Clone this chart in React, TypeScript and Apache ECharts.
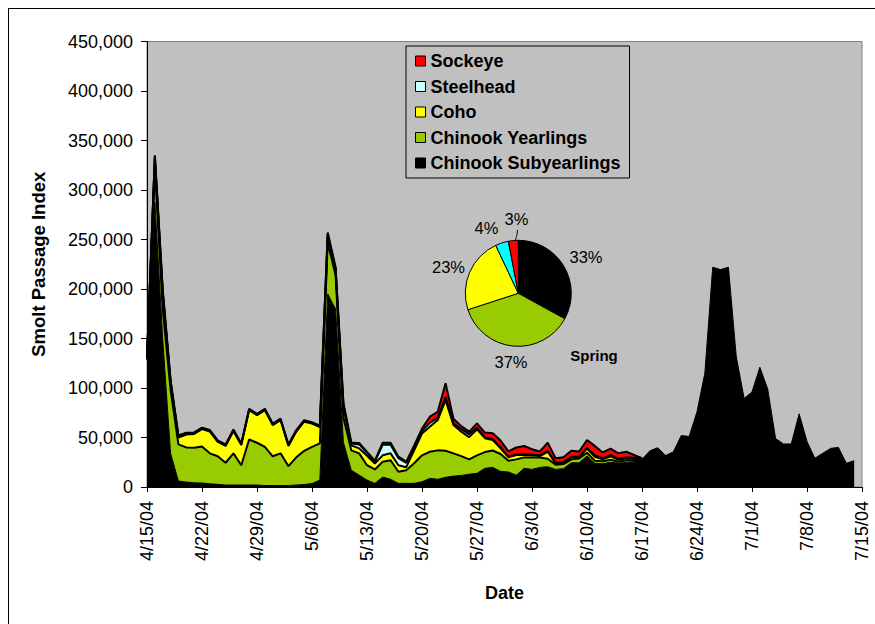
import React, { useEffect, useRef } from 'react';
import * as echarts from 'echarts';

const FONT = '"Liberation Sans", Arial, sans-serif';

// Category labels (daily, 4/15/04 .. 7/15/04)
const dates = [
  '4/15/04','4/16/04','4/17/04','4/18/04','4/19/04','4/20/04','4/21/04','4/22/04','4/23/04','4/24/04','4/25/04','4/26/04','4/27/04','4/28/04','4/29/04','4/30/04',
  '5/1/04','5/2/04','5/3/04','5/4/04','5/5/04','5/6/04','5/7/04','5/8/04','5/9/04','5/10/04','5/11/04','5/12/04','5/13/04','5/14/04','5/15/04','5/16/04','5/17/04','5/18/04','5/19/04','5/20/04','5/21/04','5/22/04','5/23/04','5/24/04','5/25/04','5/26/04','5/27/04','5/28/04','5/29/04','5/30/04','5/31/04',
  '6/1/04','6/2/04','6/3/04','6/4/04','6/5/04','6/6/04','6/7/04','6/8/04','6/9/04','6/10/04','6/11/04','6/12/04','6/13/04','6/14/04','6/15/04','6/16/04','6/17/04','6/18/04','6/19/04','6/20/04','6/21/04','6/22/04','6/23/04','6/24/04','6/25/04','6/26/04','6/27/04','6/28/04','6/29/04','6/30/04',
  '7/1/04','7/2/04','7/3/04','7/4/04','7/5/04','7/6/04','7/7/04','7/8/04','7/9/04','7/10/04','7/11/04','7/12/04','7/13/04','7/14/04','7/15/04',
];

// Daily passage index, thousands of fish
const subyearlingsK = [
  128, 288, 150, 34, 6, 5, 4.3, 4, 3.3, 2.7, 2, 2, 2, 2, 2, 1.5,
  1.5, 1.5, 1.5, 2, 2.5, 3.5, 7, 195, 180, 45, 17, 12, 7, 3.7, 10, 7.8, 3.7, 3.7, 3.7, 5.3, 8.7, 7.8, 9.8, 11, 11.7, 12.9, 13.8, 18.9, 19.8, 15.8, 15.2,
  12, 18.9, 17.8, 19.8, 20.5, 17.8, 18.5, 24.5, 24.5, 31.3, 24, 23.5, 25, 24, 25, 25.5, 28, 36.5, 39.7, 31.8, 35.6, 52, 51, 76, 115, 222, 219.6, 222, 131.5, 89.5,
  96, 121, 99, 49, 43.5, 43.5, 74, 46, 29, 34, 39, 40, 24, 26.5, null,
];
const yearlingsK = [
  1, 35, 30, 64, 37, 35, 35.3, 37, 30.7, 28.3, 22.5, 32, 20, 46, 42.7, 39,
  29.5, 32.5, 19.5, 28, 34, 37, 37, 52, 34, 25, 20, 22, 15, 14, 15.5, 19.2, 11.7, 13.3, 20.3, 26.7, 26.9, 29.2, 26.8, 23, 19.5, 15, 18.1, 16.4, 17.1, 17.5, 11.4,
  15.9, 11, 12.1, 10.1, 8.1, 4.7, 4.7, 3.4, 4.4, 3.3, 2.5, 2.5, 2.5, 1.5, 2, 1.5, 0.3, null, null, null, null, null, null, null, null, null, null, null, null, null,
  null, null, null, null, null, null, null, null, null, null, null, null, null, null, null,
];
const cohoK = [
  0.5, 9, 15, 7, 7, 13, 14, 17.5, 22, 14.5, 17, 22.5, 20.5, 29.5, 27.8, 37,
  31.5, 33.5, 20.5, 26, 29.5, 23.5, 16.5, 6, 5, 10, 5, 5, 9.5, 6, 6.5, 7, 6.6, 3, 13, 22, 25.2, 30.6, 51.2, 28.6, 24.7, 22.5, 26.3, 14, 10.5, 5.7, 3.3,
  4.4, 2.4, 2.1, 1.3, 7, 1.4, 1.3, 2, 1, 4.1, 4, 2, 3.5, 2, 2, 1.5, 0.3, null, null, null, null, null, null, null, null, null, null, null, null, null,
  null, null, null, null, null, null, null, null, null, null, null, null, null, null, null,
];
const steelheadK = [
  0.3, 2, 3, 2, 1, 0.8, 0.8, 0.8, 0.8, 0.8, 0.8, 0.8, 0.8, 0.8, 0.8, 0.8,
  0.8, 0.8, 0.8, 0.8, 0.8, 0.8, 0.8, 2.5, 2, 3, 2, 4, 3, 2, 10.7, 8.7, 7.1, 4.4, 3, 2.5, 4, 2.5, 3, 1.5, 2.5, 3, 1.5, 1, 1, 1, 0.8,
  0.8, 0.8, 0.8, 0.7, 0.8, 0.6, 0.6, 0.7, 0.7, 0.8, 1.5, 1, 1.5, 1, 1, 1, 0.2, null, null, null, null, null, null, null, null, null, null, null, null, null,
  null, null, null, null, null, null, null, null, null, null, null, null, null, null, null,
];
const sockeyeK = [
  0.2, 1, 2, 1, 1, 1, 0.7, 0.7, 0.7, 0.7, 0.7, 0.7, 0.7, 0.7, 0.7, 0.7,
  0.7, 0.7, 0.7, 0.7, 0.7, 0.7, 0.7, 1.5, 1, 2, 1, 1.5, 1, 0.8, 2, 2, 1.5, 1.2, 2, 2.5, 6.2, 5.9, 14, 4.9, 3.1, 2.5, 4.6, 4.7, 5.9, 6.9, 5.2,
  6.8, 8.4, 5.3, 4, 8.4, 4.5, 4.9, 6.1, 5.3, 7.9, 9.5, 5.9, 6.2, 5.5, 5.6, 2.8, 0.2, null, null, null, null, null, null, null, null, null, null, null, null, null,
  null, null, null, null, null, null, null, null, null, null, null, null, null, null, null,
];

// Spring composition pie (percent)
const pieNames = ['Chinook Subyearlings', 'Chinook Yearlings', 'Coho', 'Steelhead', 'Sockeye'];
const pieValues = [33, 37, 23, 4, 3];
const pieColors = ['#000000', '#99cc00', '#ffff00', '#00ffff', '#ff0000'];

const legendNames = ['Sockeye', 'Steelhead', 'Coho', 'Chinook Yearlings', 'Chinook Subyearlings'];

const yMax = 450000;
const yStep = 50000;

// label placement for the pie (layout only)
const pieLabelPos: [number, number][] = [
  [577, 248],
  [502, 352.5],
  [439.5, 257.5],
  [477.5, 218.5],
  [507.5, 210],
];

const toVals = (arr: (number | null)[]) => arr.map((v) => (v == null ? null : v * 1000));

const areaSeries = (name: string, data: (number | null)[], color: string, lineWidth: number) => ({
  name,
  type: 'line',
  stack: 'total',
  data: toVals(data),
  color,
  showSymbol: false,
  symbol: 'none',
  lineStyle: { color: '#000', width: lineWidth },
  areaStyle: { color, opacity: 1 },
  emphasis: { disabled: true },
  silent: true,
  z: 2,
});

export default function App() {
  const ref = useRef<HTMLDivElement>(null);
  useEffect(() => {
    if (!ref.current) return;
    const chart = echarts.init(ref.current, undefined, { renderer: 'svg' });
    const option: any = {
      animation: false,
      backgroundColor: '#ffffff',
      textStyle: { fontFamily: FONT },
      grid: {
        left: 138, top: 32.5, width: 715, height: 445.5,
        show: true, backgroundColor: '#c0c0c0', borderColor: '#808080', borderWidth: 1,
      },
      legend: {
        orient: 'vertical', left: 397, top: 37,
        data: legendNames,
        icon: 'rect', itemWidth: 10, itemHeight: 10, itemGap: 7.5,
        itemStyle: { borderColor: '#000', borderWidth: 1 },
        textStyle: { fontSize: 18, fontWeight: 'bold', color: '#000', fontFamily: FONT },
        padding: [6, 9, 6, 9],
        borderColor: '#000', borderWidth: 1, backgroundColor: '#c0c0c0',
        selectedMode: false,
        z: 10,
      },
      xAxis: {
        type: 'category', boundaryGap: false, data: dates,
        axisLine: { lineStyle: { color: '#000', width: 1 } },
        axisTick: { interval: 6, length: 5, lineStyle: { color: '#000' } },
        axisLabel: { interval: 6, rotate: 90, margin: 14, fontSize: 18, color: '#000', fontFamily: FONT },
        splitLine: { show: false },
        name: 'Date', nameLocation: 'middle', nameGap: 97,
        nameTextStyle: { fontSize: 18, fontWeight: 'bold', color: '#000', fontFamily: FONT },
      },
      yAxis: {
        type: 'value', min: 0, max: yMax, interval: yStep,
        axisLine: { show: true, lineStyle: { color: '#000' } },
        axisTick: { show: true, length: 6, lineStyle: { color: '#000' } },
        axisLabel: {
          margin: 14, fontSize: 18, color: '#000', fontFamily: FONT,
          formatter: (v: number) => v.toLocaleString('en-US'),
        },
        splitLine: { show: false },
        name: 'Smolt Passage Index', nameLocation: 'middle', nameGap: 99, nameRotate: 90,
        nameTextStyle: { fontSize: 18.5, fontWeight: 'bold', color: '#000', fontFamily: FONT },
      },
      series: [
        areaSeries('Chinook Subyearlings', subyearlingsK, '#000000', 1),
        areaSeries('Chinook Yearlings', yearlingsK, '#99cc00', 2),
        areaSeries('Coho', cohoK, '#ffff00', 2),
        areaSeries('Steelhead', steelheadK, '#ccffff', 2),
        areaSeries('Sockeye', sockeyeK, '#ff0000', 2),
        {
          type: 'pie', center: [509.3, 284.3], radius: 53, startAngle: 90, clockwise: true,
          avoidLabelOverlap: false, silent: true, z: 5,
          emphasis: { disabled: true },
          itemStyle: { borderColor: '#000', borderWidth: 1 },
          label: { show: true, position: 'outside', formatter: '{c}%', fontSize: 16.5, color: '#000', fontFamily: FONT },
          labelLine: { show: false, length: 8, length2: 0 },
          labelLayout: (p: any) => {
            const pos = pieLabelPos[p.dataIndex];
            const out: any = { x: pos[0], y: pos[1], align: 'center', verticalAlign: 'middle', hideOverlap: false, moveOverlap: undefined };
            if (p.dataIndex === 4) {
              out.labelLinePoints = [[506, 232.5], [508, 226], [508.5, 221]];
            }
            return out;
          },
          data: pieNames.map((n, i) => ({
            name: n, value: pieValues[i], itemStyle: { color: pieColors[i] },
            labelLine: n === 'Sockeye' ? { show: true, length: 10, length2: 0, smooth: 0.3, lineStyle: { color: '#000', width: 1 } } : undefined,
          })),
        },
      ],
      graphic: [
        {
          type: 'text', x: 585, y: 346, z: 10,
          style: { text: 'Spring', fill: '#000', fontSize: 15, fontWeight: 'bold', fontFamily: FONT, align: 'center', verticalAlign: 'middle' },
        },
      ],
    };
    chart.setOption(option);
    return () => chart.dispose();
  }, []);
  return (
    <div
      ref={ref}
      style={{
        position: 'fixed', left: 8, top: 8, width: 866, height: 615,
        borderLeft: '1px solid #000', borderTop: '1px solid #000', background: '#fff',
      }}
    />
  );
}
